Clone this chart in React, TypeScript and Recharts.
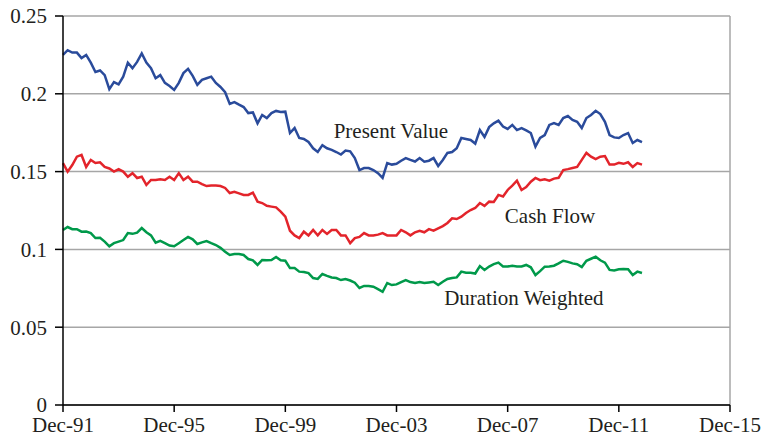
import React from 'react';
import { LineChart, Line, XAxis, YAxis, CartesianGrid, ReferenceLine, ReferenceDot } from 'recharts';

// months since Dec-91, sampled every two months
const months = [
  0, 2, 4, 6, 8, 10, 12, 14, 16, 18, 20, 22, 24, 26, 28, 30, 32, 34, 36, 38,
  40, 42, 44, 46, 48, 50, 52, 54, 56, 58, 60, 62, 64, 66, 68, 70, 72, 74, 76, 78,
  80, 82, 84, 86, 88, 90, 92, 94, 96, 98, 100, 102, 104, 106, 108, 110, 112, 114, 116, 118,
  120, 122, 124, 126, 128, 130, 132, 134, 136, 138, 140, 142, 144, 146, 148, 150, 152, 154, 156, 158,
  160, 162, 164, 166, 168, 170, 172, 174, 176, 178, 180, 182, 184, 186, 188, 190, 192, 194, 196, 198,
  200, 202, 204, 206, 208, 210, 212, 214, 216, 218, 220, 222, 224, 226, 228, 230, 232, 234, 236, 238,
  240, 242, 244, 246, 248, 250,
];

const presentValue = [
  0.225, 0.228, 0.2265, 0.2265, 0.223, 0.225, 0.22, 0.214, 0.215, 0.212, 0.203, 0.2075, 0.206, 0.211, 0.22, 0.2165, 0.2205, 0.226, 0.22, 0.2165,
  0.21, 0.212, 0.207, 0.205, 0.2025, 0.207, 0.2133, 0.216, 0.2115, 0.2057, 0.209, 0.21, 0.211, 0.207, 0.2044, 0.201, 0.1935, 0.1947, 0.193, 0.1915,
  0.1876, 0.188, 0.181, 0.1864, 0.1844, 0.1876, 0.189, 0.1883, 0.1885, 0.1748, 0.178, 0.1716, 0.171, 0.169, 0.165, 0.1626, 0.167, 0.165, 0.164, 0.1626,
  0.161, 0.1635, 0.163, 0.1587, 0.151, 0.1523, 0.1523, 0.151, 0.149, 0.1459, 0.1555, 0.1545, 0.155, 0.157, 0.1587, 0.1575, 0.1565, 0.1587, 0.1564, 0.157,
  0.1587, 0.1536, 0.1575, 0.162, 0.1626, 0.165, 0.1716, 0.171, 0.1703, 0.168, 0.1767, 0.1722, 0.1786, 0.181, 0.1827, 0.179, 0.1774, 0.18, 0.1767, 0.178,
  0.1765, 0.1748, 0.166, 0.1716, 0.1735, 0.18, 0.1812, 0.18, 0.1844, 0.1857, 0.1832, 0.182, 0.178, 0.1844, 0.1864, 0.1891, 0.187, 0.182, 0.1735, 0.172,
  0.1716, 0.1735, 0.1748, 0.1684, 0.1703, 0.169,
];

const cashFlow = [
  0.1555, 0.15, 0.1542, 0.1596, 0.1607, 0.153, 0.1575, 0.1555, 0.156, 0.153, 0.152, 0.15, 0.1515, 0.15, 0.1467, 0.149, 0.1459, 0.1467, 0.1414, 0.1446,
  0.1446, 0.145, 0.1446, 0.1467, 0.1446, 0.149, 0.1446, 0.1467, 0.1435, 0.1435, 0.142, 0.1407, 0.141, 0.141, 0.1407, 0.1395, 0.1362, 0.137, 0.136, 0.135,
  0.135, 0.1365, 0.1307, 0.1298, 0.128, 0.1275, 0.127, 0.1243, 0.121, 0.112, 0.109, 0.1073, 0.1114, 0.109, 0.1125, 0.109, 0.1125, 0.11, 0.1125, 0.1125,
  0.109, 0.109, 0.104, 0.1073, 0.108, 0.1105, 0.109, 0.109, 0.1095, 0.1105, 0.109, 0.109, 0.109, 0.1125, 0.111, 0.109, 0.111, 0.112, 0.111, 0.113,
  0.112, 0.1135, 0.115, 0.117, 0.12, 0.1195, 0.121, 0.1234, 0.1253, 0.1266, 0.1298, 0.128, 0.1307, 0.1305, 0.135, 0.134, 0.1382, 0.141, 0.1442, 0.1382,
  0.14, 0.1435, 0.1459, 0.1445, 0.145, 0.1442, 0.1455, 0.146, 0.151, 0.1516, 0.1523, 0.153, 0.1575, 0.162, 0.1596, 0.158, 0.1596, 0.16, 0.1545, 0.1545,
  0.1557, 0.155, 0.156, 0.153, 0.1555, 0.1545,
];

const durationWeighted = [
  0.1125, 0.1144, 0.113, 0.113, 0.1114, 0.1115, 0.1105, 0.1073, 0.1075, 0.105, 0.102, 0.104, 0.105, 0.106, 0.1105, 0.11, 0.1108, 0.1137, 0.111, 0.109,
  0.1043, 0.1055, 0.104, 0.1025, 0.102, 0.104, 0.106, 0.108, 0.1065, 0.1035, 0.1045, 0.1054, 0.104, 0.1028, 0.101, 0.0985, 0.0964, 0.097, 0.097, 0.0964,
  0.0938, 0.093, 0.09, 0.0932, 0.093, 0.0932, 0.0951, 0.093, 0.0927, 0.088, 0.088, 0.0857, 0.0855, 0.0848, 0.0816, 0.081, 0.0842, 0.083, 0.082, 0.0816,
  0.0803, 0.081, 0.08, 0.0786, 0.0752, 0.0765, 0.0765, 0.076, 0.0745, 0.0728, 0.0784, 0.0771, 0.0775, 0.079, 0.0803, 0.079, 0.0784, 0.079, 0.0784, 0.0788,
  0.0792, 0.0771, 0.0792, 0.081, 0.0816, 0.082, 0.0857, 0.085, 0.085, 0.0845, 0.0893, 0.0868, 0.089, 0.0905, 0.0915, 0.089, 0.089, 0.0895, 0.089, 0.089,
  0.09, 0.0885, 0.0835, 0.086, 0.0889, 0.089, 0.0895, 0.091, 0.0927, 0.092, 0.091, 0.0905, 0.0887, 0.0927, 0.094, 0.0953, 0.093, 0.0915, 0.0868, 0.0865,
  0.0872, 0.0874, 0.0872, 0.0835, 0.0857, 0.0848,
];

const xTicks = [0, 48, 96, 144, 192, 240, 288];
const xTickLabels = ['Dec-91', 'Dec-95', 'Dec-99', 'Dec-03', 'Dec-07', 'Dec-11', 'Dec-15'];
const yTicks = [0, 0.05, 0.1, 0.15, 0.2, 0.25];
const yTickLabels = ['0', '0.05', '0.1', '0.15', '0.2', '0.25'];

const data = months.map((m, i) => ({
  m,
  pv: presentValue[i],
  cf: cashFlow[i],
  dw: durationWeighted[i],
}));

const FONT = '"Liberation Serif", "DejaVu Serif", serif';
const TEXT = '#231f20';

export default function App() {
  return (
    <div style={{ position: 'absolute', left: 0, top: 0 }}>
      <LineChart width={763} height={442} data={data} margin={{ top: 16, right: 33, left: 0, bottom: 7 }}>
        <CartesianGrid vertical={false} stroke="#a6a6a6" strokeWidth={1.5} />
        <ReferenceLine x={288} stroke="#a6a6a6" strokeWidth={1.5} />
        <XAxis
          dataKey="m"
          type="number"
          domain={[0, 288]}
          ticks={xTicks}
          tickFormatter={(v: number) => xTickLabels[xTicks.indexOf(v)]}
          stroke="#000"
          strokeWidth={1.5}
          tickSize={7}
          tickMargin={5}
          height={30}
          tick={{ fill: TEXT, fontSize: 21, fontFamily: FONT }}
          interval={0}
        />
        <YAxis
          type="number"
          domain={[0, 0.25]}
          ticks={yTicks}
          tickFormatter={(v: number) => yTickLabels[yTicks.indexOf(v)]}
          stroke="#000"
          strokeWidth={1.5}
          tickSize={8}
          tickMargin={8}
          width={63}
          tick={{ fill: TEXT, fontSize: 21, fontFamily: FONT }}
          interval={0}
        />
        <Line dataKey="pv" stroke="#2a4b9b" strokeWidth={2.5} dot={false} isAnimationActive={false} />
        <Line dataKey="cf" stroke="#e3242b" strokeWidth={2.5} dot={false} isAnimationActive={false} />
        <Line dataKey="dw" stroke="#00994a" strokeWidth={2.5} dot={false} isAnimationActive={false} />
        <ReferenceDot x={141.6} y={0.1767} r={0} fill="none" stroke="none"
          label={{ value: 'Present Value', position: 'center', fill: TEXT, fontSize: 21, fontFamily: FONT }} />
        <ReferenceDot x={210.3} y={0.1215} r={0} fill="none" stroke="none"
          label={{ value: 'Cash Flow', position: 'center', fill: TEXT, fontSize: 21, fontFamily: FONT }} />
        <ReferenceDot x={199} y={0.0688} r={0} fill="none" stroke="none"
          label={{ value: 'Duration Weighted', position: 'center', fill: TEXT, fontSize: 21, fontFamily: FONT }} />
      </LineChart>
    </div>
  );
}
